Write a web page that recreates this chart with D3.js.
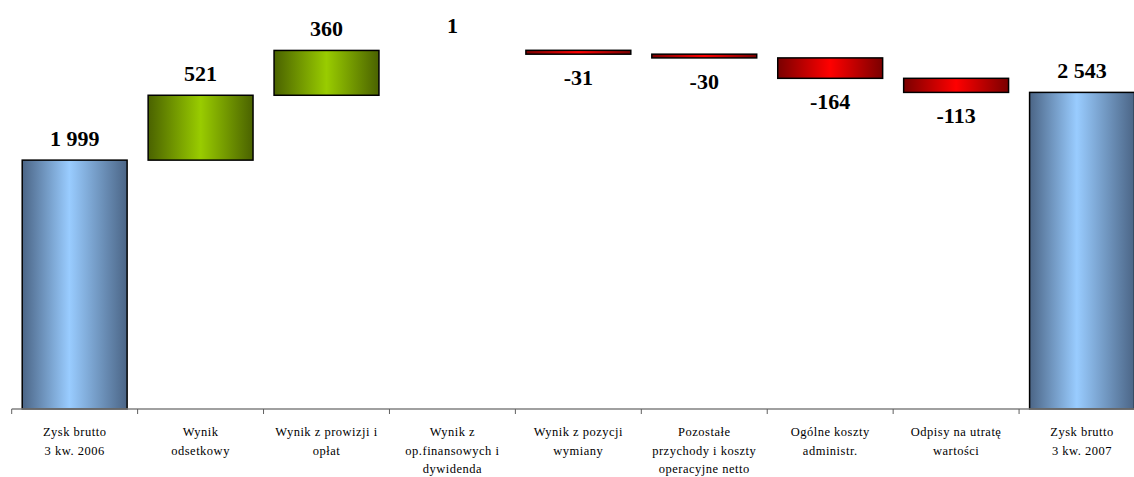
<!DOCTYPE html>
<html>
<head>
<meta charset="utf-8">
<script src="https://d3js.org/d3.v7.min.js"></script>
<style>
  body { margin: 0; background: #fff; }
  svg { display: block; }
  text { font-family: "Liberation Serif", "Times New Roman", Times, "DejaVu Serif", serif; }
</style>
</head>
<body>
<div id="chart"></div>
<script>
// categories (one entry per line of the label)
var categories = [
  ["Zysk brutto", "3 kw. 2006"],
  ["Wynik", "odsetkowy"],
  ["Wynik z prowizji i", "opłat"],
  ["Wynik z", "op.finansowych i", "dywidenda"],
  ["Wynik z pozycji", "wymiany"],
  ["Pozostałe", "przychody i koszty", "operacyjne netto"],
  ["Ogólne koszty", "administr."],
  ["Odpisy na utratę", "wartości"],
  ["Zysk brutto", "3 kw. 2007"]
];
var values = [1999, 521, 360, 1, -31, -30, -164, -113, 2543];
var kinds = ["total", "step", "step", "step", "step", "step", "step", "step", "total"];
var valueLabels = ["1 999", "521", "360", "1", "-31", "-30", "-164", "-113", "2 543"];

var width = 1134, height = 477;

var svg = d3.select("#chart").append("svg")
  .attr("width", width)
  .attr("height", height);

// gradients
var defs = svg.append("defs");
function grad(id, edge, mid, midPos) {
  var g = defs.append("linearGradient").attr("id", id)
    .attr("x1", "0%").attr("x2", "100%").attr("y1", "0%").attr("y2", "0%");
  g.append("stop").attr("offset", "0%").attr("stop-color", edge);
  g.append("stop").attr("offset", midPos).attr("stop-color", mid);
  g.append("stop").attr("offset", "100%").attr("stop-color", edge);
}
grad("gBlue", "#4b6586", "#99ccff", "45%");
grad("gGreen", "#4a6200", "#99cc00", "50%");
grad("gRed", "#7a0000", "#ff0000", "50%");

var x = d3.scaleBand()
  .domain(d3.range(categories.length))
  .range([11.7, 1145])
  .paddingInner(0.167)
  .paddingOuter(0.0835);

var y = d3.scaleLinear()
  .domain([0, 3000])
  .range([409, 35.5]);

// compute waterfall segments
var running = 0;
var bars = values.map(function (v, i) {
  var b;
  if (kinds[i] === "total") {
    b = { i: i, lo: 0, hi: v, v: v };
    running = v;
  } else {
    var next = running + v;
    b = { i: i, lo: Math.min(running, next), hi: Math.max(running, next), v: v };
    running = next;
  }
  return b;
});

function fillFor(b) {
  if (kinds[b.i] === "total") return "url(#gBlue)";
  return b.v >= 0 ? "url(#gGreen)" : "url(#gRed)";
}

svg.selectAll("rect.bar")
  .data(bars.filter(function (b) { return y(b.lo) - y(b.hi) > 0.5; }))
  .enter().append("rect")
  .attr("class", "bar")
  .attr("x", function (b) { return x(b.i); })
  .attr("width", x.bandwidth())
  .attr("y", function (b) { return y(b.hi); })
  .attr("height", function (b) { return y(b.lo) - y(b.hi); })
  .attr("fill", fillFor)
  .attr("stroke", "#000")
  .attr("stroke-width", 1.5);

// axis line and ticks at category boundaries
var step = x.step();
var bounds = d3.range(categories.length + 1).map(function (i) {
  return x.range()[0] + i * step;
});
svg.append("line")
  .attr("x1", bounds[0]).attr("x2", bounds[bounds.length - 1])
  .attr("y1", y(0)).attr("y2", y(0))
  .attr("stroke", "#808080").attr("stroke-width", 1.3);
svg.selectAll("line.tick")
  .data(bounds).enter().append("line")
  .attr("class", "tick")
  .attr("x1", function (d) { return d; }).attr("x2", function (d) { return d; })
  .attr("y1", y(0)).attr("y2", y(0) + 5)
  .attr("stroke", "#606060").attr("stroke-width", 1);

// value labels: above rising bars, below falling ones
svg.selectAll("text.val")
  .data(bars).enter().append("text")
  .attr("class", "val")
  .attr("x", function (b) { return x(b.i) + x.bandwidth() / 2; })
  .attr("y", function (b) {
    if (b.v < 0) return y(b.lo) + 31;
    var t = y(b.hi) - 14;
    return Math.abs(b.v) < 10 ? t - 3 : t;
  })
  .attr("text-anchor", "middle")
  .style("font-weight", "bold")
  .style("font-size", "22px")
  .text(function (b, i) { return valueLabels[i]; });

// category labels
var cat = svg.selectAll("text.cat")
  .data(categories).enter().append("text")
  .attr("class", "cat")
  .attr("x", function (d, i) { return x(i) + x.bandwidth() / 2; })
  .attr("y", 436)
  .attr("text-anchor", "middle")
  .style("font-size", "12.5px")
  .style("letter-spacing", "0.5px")
  .style("fill", "#000");

cat.selectAll("tspan")
  .data(function (d) { return d; })
  .enter().append("tspan")
  .attr("x", function () { return d3.select(this.parentNode).attr("x"); })
  .attr("dy", function (d, j) { return j === 0 ? 0 : 18.5; })
  .text(function (d) { return d; });
</script>
</body>
</html>
